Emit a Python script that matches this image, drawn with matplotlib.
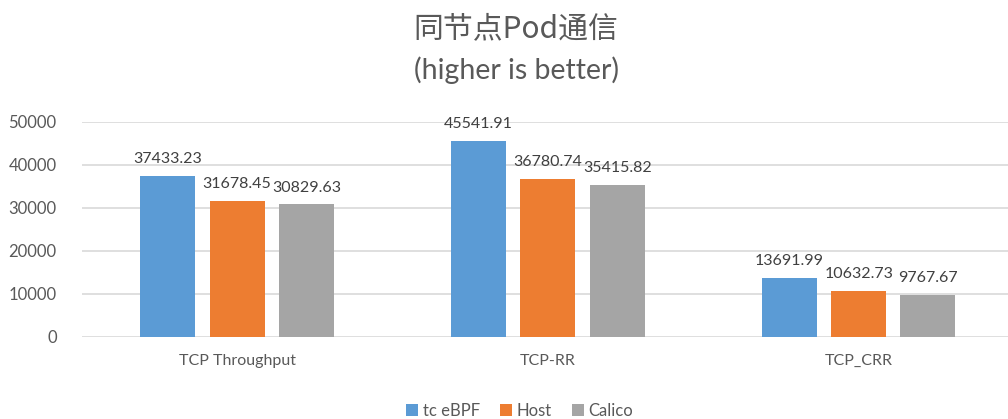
import numpy as np
import matplotlib
matplotlib.use("Agg")
import matplotlib.pyplot as plt

plt.rcParams['font.family'] = ['Lato', 'Noto Sans CJK SC', 'DejaVu Sans']

# ---------------- Data ----------------
categories = ["TCP Throughput", "TCP-RR", "TCP_CRR"]
series_names = ["tc eBPF", "Host", "Calico"]
tc_ebpf = [37433.23, 45541.91, 13691.99]
host = [31678.45, 36780.74, 10632.73]
calico = [30829.63, 35415.82, 9767.67]
colors = ["#5B9BD5", "#ED7D31", "#A5A5A5"]

text_grey = "#595959"

fig = plt.figure(figsize=(10.08, 4.19), dpi=100)
ax = fig.add_axes([0.081, 0.196, 0.925, 0.513])

x = np.arange(len(categories))
width = 0.177
step = 0.223
for i, (vals, name, c) in enumerate(zip([tc_ebpf, host, calico], series_names, colors)):
    pos = x + (i - 1) * step
    bars = ax.bar(pos, vals, width, color=c, label=name, zorder=3)
    for b, v in zip(bars, vals):
        ax.annotate(f"{v:.2f}", (b.get_x() + b.get_width() / 2, v),
                    xytext=(0, 7), textcoords="offset points",
                    ha="center", va="bottom", fontsize=11.5, color="#404040")

ax.set_xlim(-0.5, 2.5)
ax.set_ylim(0, 50000)
ax.set_yticks(np.arange(0, 50001, 10000))
ax.yaxis.grid(True, color="#D9D9D9", linewidth=1.2, zorder=0)
ax.set_axisbelow(True)
for s in ax.spines.values():
    s.set_visible(False)
ax.tick_params(axis="both", length=0, labelsize=12, colors=text_grey)
ax.tick_params(axis="y", pad=18)
ax.tick_params(axis="x", labelsize=11.5, pad=12)
ax.set_xticks(x)
ax.set_xticklabels(categories)

fig.text(0.512, 0.932, "同节点Pod通信", ha="center", va="center", fontsize=21.5, color=text_grey,
         family=['Noto Sans CJK SC', 'DejaVu Sans'])
fig.text(0.512, 0.833, "(higher is better)", ha="center", va="center", fontsize=20.5, color=text_grey)

ax.legend(loc="center", bbox_to_anchor=(0.47, -0.345), ncol=3, frameon=False,
          fontsize=12, handlelength=0.7, handleheight=0.7, handletextpad=0.3,
          columnspacing=1.2, labelcolor=text_grey)

fig.savefig("out.png", dpi=100)
